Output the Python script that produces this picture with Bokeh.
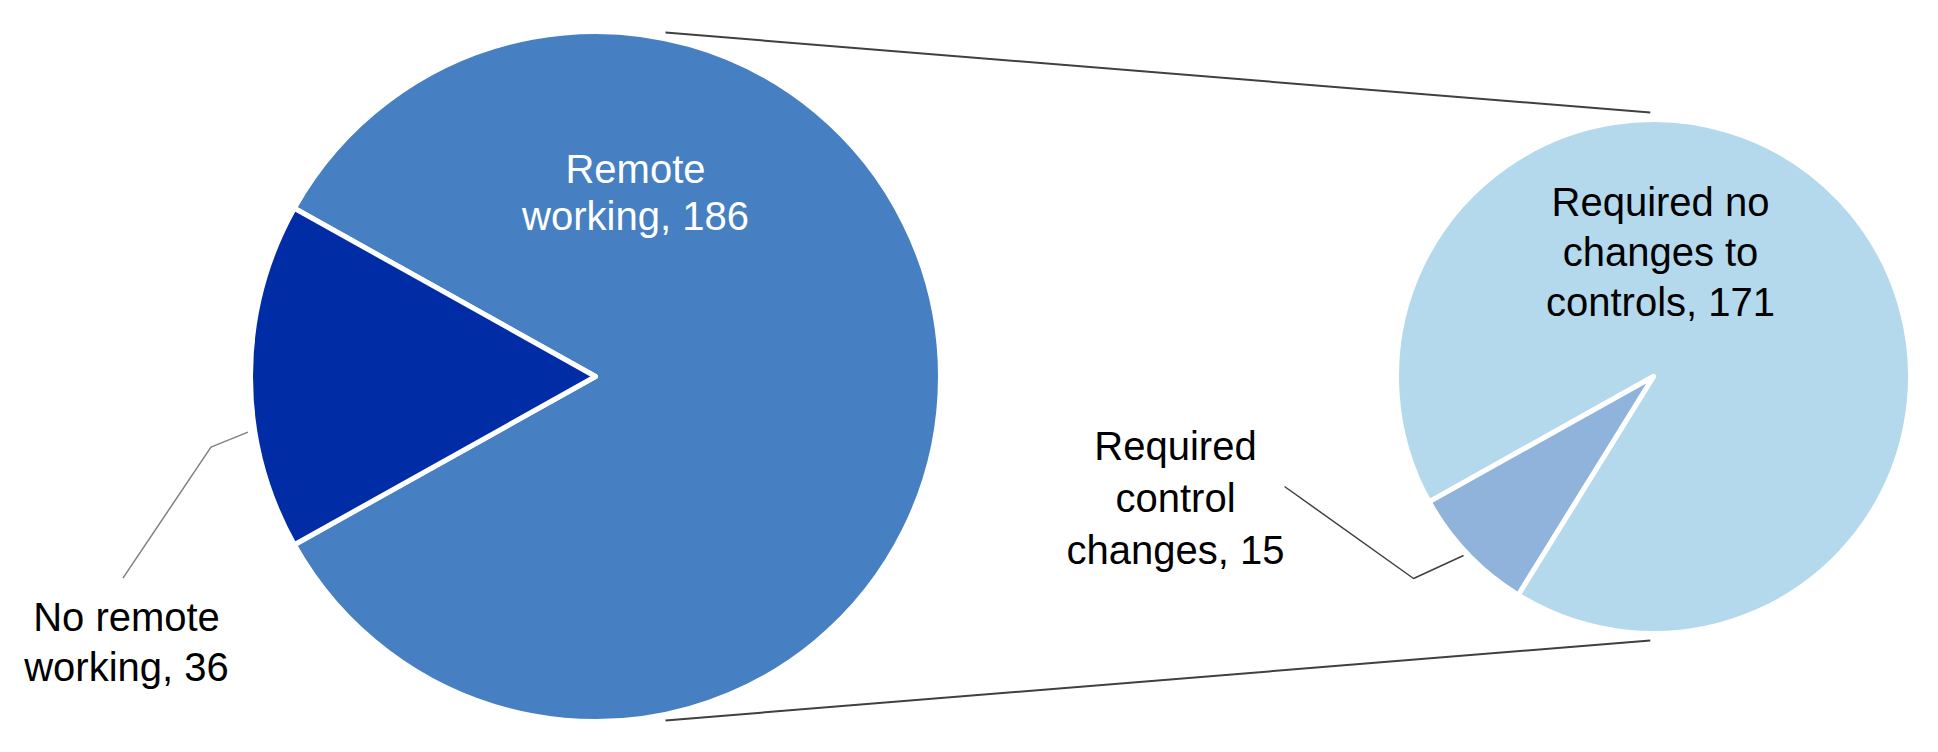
import math
from bokeh.plotting import figure
from bokeh.models import Range1d, ColumnDataSource
from bokeh.core.properties import value
from bokeh.embed import file_html
from bokeh.resources import INLINE

# ---------------- data ----------------
main_categories = ["Remote working", "No remote working"]
main_values = [186, 36]
sub_categories = ["Required control changes", "Required no changes to controls"]
sub_values = [15, 171]

# label wrapping (as in the original chart)
main_wrapped = ["Remote\nworking", "No remote\nworking"]
sub_wrapped = ["Required\ncontrol\nchanges", "Required no\nchanges to\ncontrols"]

# ---------------- style / layout ----------------
main_colors = ["#4680C2", "#002DA6"]
sub_colors = ["#8FB3DA", "#B4D9EC"]
main_text_colors = ["white", "black"]
sub_text_colors = ["black", "black"]

W, H = 1922, 736
FONT = "Liberation Sans"
FSIZE = "40px"

# pie geometry (page pixel coords, y measured upward)
c1 = (595.0, 376.0); r1 = 345.0
c2 = (1653.0, 376.0); r2 = 257.0

p = figure(width=W, height=H, output_backend="svg", toolbar_location=None,
           x_range=Range1d(0, W), y_range=Range1d(752 - H, 752),
           min_border=0)
p.axis.visible = False
p.grid.visible = False
p.outline_line_color = None
p.background_fill_color = "white"
p.border_fill_color = "white"

def img_y(y):
    # convert a y position measured from the top of the page to data space
    return 752 - y

# ---------------- main pie ----------------
main_total = sum(main_values)
half = math.pi * main_values[1] / main_total
dark_start = math.pi - half
dark_end = math.pi + half
# remote working: from dark_end anticlockwise around to dark_start
p.wedge(x=[c1[0]], y=[c1[1]], radius=r1, start_angle=[dark_end],
        end_angle=[dark_start + 2 * math.pi], fill_color=main_colors[0],
        line_color="white", line_width=5, line_join="round")
p.wedge(x=[c1[0]], y=[c1[1]], radius=r1, start_angle=[dark_start],
        end_angle=[dark_end], fill_color=main_colors[1],
        line_color="white", line_width=5, line_join="round")

# ---------------- sub pie ----------------
sub_total = sum(sub_values)
s0 = dark_end
s1 = s0 + 2 * math.pi * sub_values[0] / sub_total
p.wedge(x=[c2[0]], y=[c2[1]], radius=r2, start_angle=[s1],
        end_angle=[s0 + 2 * math.pi], fill_color=sub_colors[1],
        line_color="white", line_width=5, line_join="round")
p.wedge(x=[c2[0]], y=[c2[1]], radius=r2, start_angle=[s0],
        end_angle=[s1], fill_color=sub_colors[0],
        line_color="white", line_width=5, line_join="round")

# ---------------- connector lines between pies ----------------
def polar(c, r, deg):
    a = math.radians(deg)
    return c[0] + r * math.cos(a), c[1] + r * math.sin(a)

for sgn in (1, -1):
    a = polar(c1, r1 + 6, sgn * 78.5)
    b = polar(c2, r2 + 7, sgn * 90.7)
    p.line([a[0], b[0]], [a[1], b[1]], line_color="#404040", line_width=2)

# ---------------- leader lines ----------------
# No remote working
a = polar(c1, r1 + 7, 189.1)
p.line([a[0], a[0] - 37, a[0] - 125], [a[1], a[1] - 15, a[1] - 146],
       line_color="#808080", line_width=1.5)
# Required control changes
a = polar(c2, r2 + 4, 223.3)
p.line([a[0], a[0] - 50, a[0] - 179], [a[1], a[1] - 23, a[1] + 69],
       line_color="#404040", line_width=1.5)

# ---------------- labels ----------------
# (center x, first line position from page top, line spacing)
main_label_pos = [(635, 168, 47), (126, 616, 50)]
sub_label_pos = [(1175, 445, 52), (1660, 201, 50)]

tx, ty, tt, tc = [], [], [], []
for wrapped, vals, pos, cols in ((main_wrapped, main_values, main_label_pos, main_text_colors),
                                 (sub_wrapped, sub_values, sub_label_pos, sub_text_colors)):
    for lab, v, (cx, by, sp), col in zip(wrapped, vals, pos, cols):
        lines = (lab + ", " + str(v)).split("\n")
        for i, ln in enumerate(lines):
            tx.append(cx)
            ty.append(img_y(by + i * sp))
            tt.append(ln)
            tc.append(col)

txt_src = ColumnDataSource(dict(x=tx, y=ty, text=tt, color=tc))
p.text(x="x", y="y", text="text", source=txt_src, text_color="color",
       text_font=value(FONT), text_font_size=FSIZE,
       text_align="center", text_baseline="alphabetic")

open("out.html", "w").write(file_html(p, INLINE))
